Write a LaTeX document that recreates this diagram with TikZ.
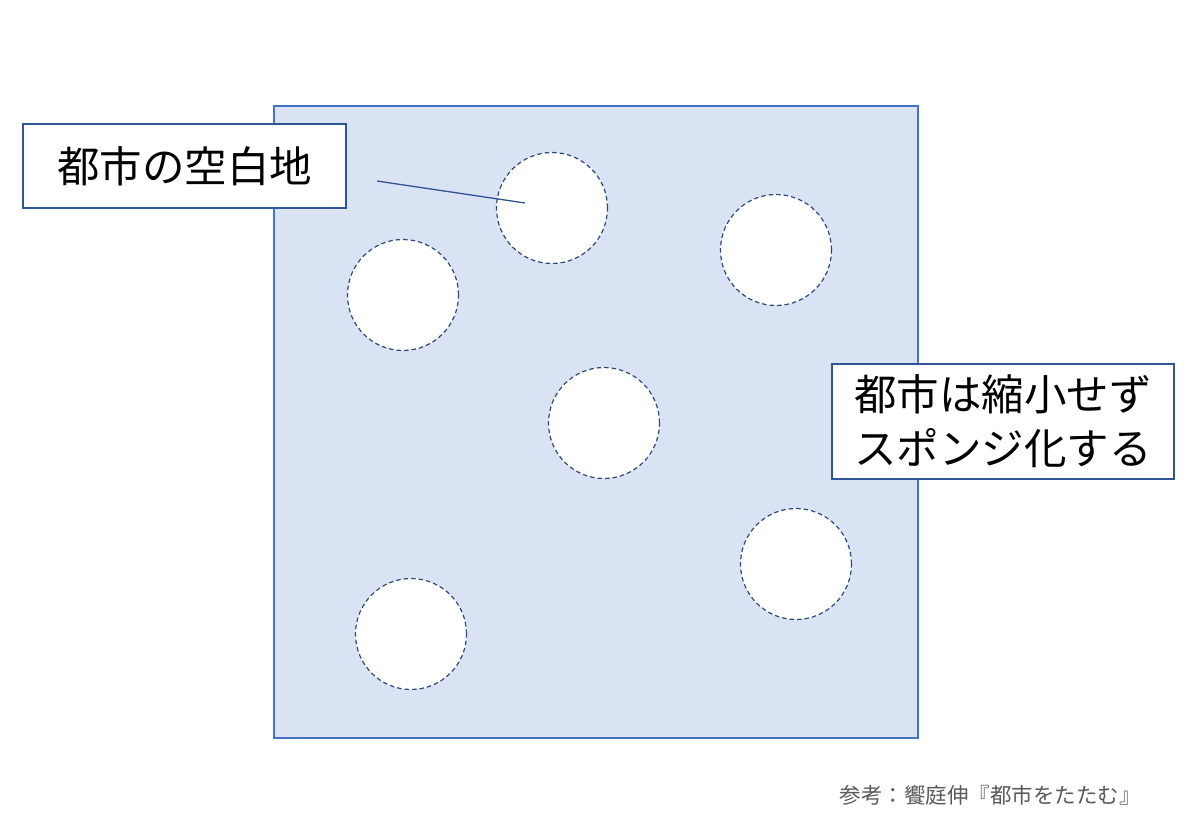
\documentclass[tikz,border=0pt]{standalone}
\usepackage{fontspec}
\newfontfamily\jp{Noto Sans CJK JP}
\definecolor{areafill}{HTML}{DAE3F3}
\definecolor{areaedge}{HTML}{4472C4}
\definecolor{holeedge}{HTML}{2F4A7A}
\definecolor{noteedge}{HTML}{2F5597}
\definecolor{srcgray}{HTML}{595959}
\tikzset{
  hole/.style={circle, draw=holeedge, dash pattern=on 4.5pt off 3pt, line width=1.2pt, fill=white, minimum size=111pt, inner sep=0pt},
  labelbox/.style={draw=noteedge, line width=1.1pt, fill=white, inner sep=0pt, font=\jp\fontsize{42.5}{54}\selectfont, align=center},
}
\begin{document}
\begin{tikzpicture}[x=1pt,y=-1pt]
\useasboundingbox (0,0) rectangle (1200,831);
\node[draw=areaedge, line width=1.1pt, fill=areafill, minimum width=644pt, minimum height=632pt, inner sep=0pt] (city) at (596,422) {};
\node[hole] (h1) at (552,208) {};
\node[hole] (h2) at (776,250) {};
\node[hole] (h3) at (403,295) {};
\node[hole] (h4) at (604,423) {};
\node[hole] (h5) at (796,564) {};
\node[hole] (h6) at (411,634) {};
\node[labelbox, minimum width=323pt, minimum height=84pt] (lbl1) at (184.5,166) {都市の空白地};
\coordinate (lstart) at (377,181);
\coordinate (lend) at (525,203);
\draw[noteedge, line width=1.3pt] (lstart) -- (lend);
\node[labelbox, minimum width=342pt, minimum height=115pt] (lbl2) at (1003,421.5) {都市は縮小せず\\スポンジ化する};
\node[font=\jp\fontsize{21.5}{24}\selectfont, text=srcgray, inner sep=0pt] (src) at (990,795) {参考：饗庭伸『都市をたたむ』};
\end{tikzpicture}
\end{document}
